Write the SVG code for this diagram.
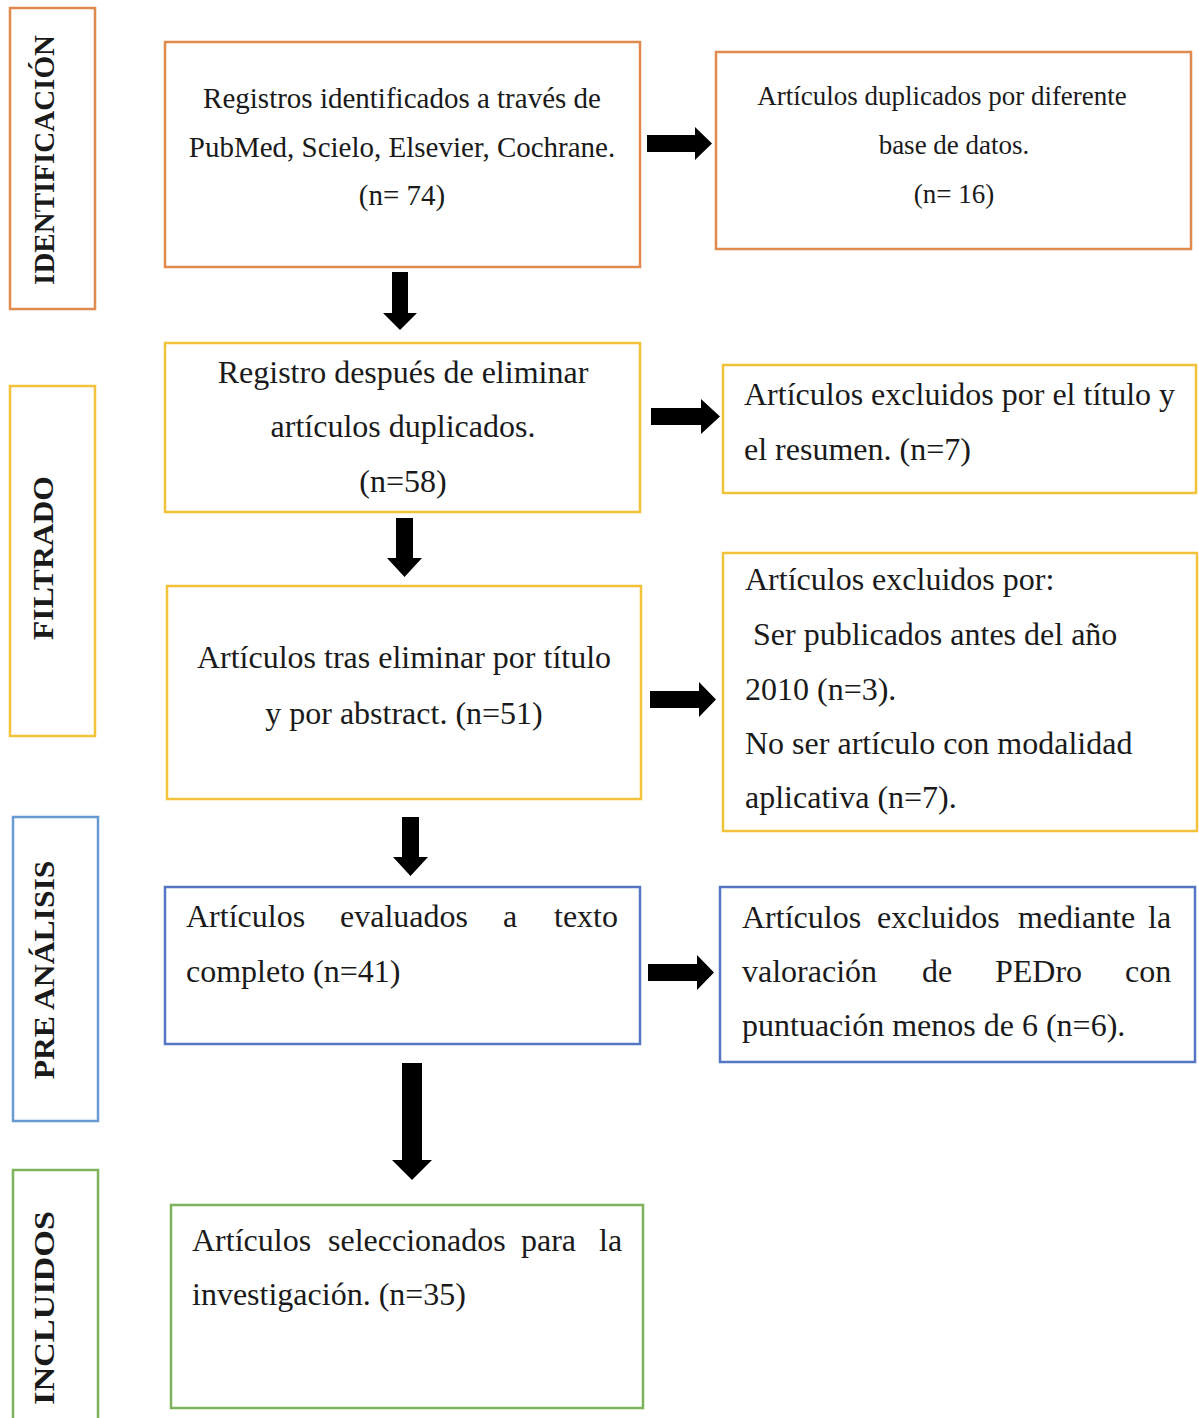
<svg xmlns="http://www.w3.org/2000/svg" width="1199" height="1418" viewBox="0 0 1199 1418">
<style>
.box{fill:#fff;stroke-width:2.5}
.or{stroke:#E08A4E}
.ye{stroke:#F2C33A}
.bl{stroke:#5576C4}
.lb{stroke:#6A9AD2}
.gr{stroke:#7DB35A}
text{font-family:"Liberation Serif","Times New Roman",serif;fill:#1a1a1a}
.side{font-size:29px;font-weight:bold;text-anchor:middle}
.t29{font-size:29px}
.t27{font-size:27px}
.t32{font-size:32px}
.c{text-anchor:middle}
.e{text-anchor:end}
.arrow{fill:#000}
</style>
<rect width="1199" height="1418" fill="#fff"/>

<g id="side-identificacion">
<rect class="box or" x="10" y="8" width="85" height="301"/>
<text class="side" transform="translate(54,160) rotate(-90)">IDENTIFICACIÓN</text>
</g>
<g id="side-filtrado">
<rect class="box ye" x="10" y="386" width="85" height="350"/>
<text class="side" transform="translate(53,558) rotate(-90) scale(1.09,1)">FILTRADO</text>
</g>
<g id="side-preanalisis">
<rect class="box lb" x="13" y="817" width="85" height="304"/>
<text class="side" transform="translate(54,970) rotate(-90) scale(1.09,1)">PRE ANÁLISIS</text>
</g>
<g id="side-incluidos">
<rect class="box gr" x="13" y="1170" width="85" height="260"/>
<text class="side" transform="translate(54,1308) rotate(-90) scale(1.18,1)">INCLUIDOS</text>
</g>

<g id="n1">
<rect class="box or" x="165" y="42" width="475" height="225"/>
<text class="t29 c" x="402" y="108">Registros identificados a través de</text>
<text class="t29 c" x="402" y="157">PubMed, Scielo, Elsevier, Cochrane.</text>
<text class="t29 c" x="402" y="205">(n= 74)</text>
</g>
<g id="n1r">
<rect class="box or" x="716" y="52" width="475" height="197"/>
<text class="t27 c" x="942" y="105">Artículos duplicados por diferente</text>
<text class="t27 c" x="954" y="154">base de datos.</text>
<text class="t27 c" x="954" y="203">(n= 16)</text>
</g>
<g id="n2">
<rect class="box ye" x="165" y="343" width="475" height="169"/>
<text class="t32 c" x="403" y="383">Registro después de eliminar</text>
<text class="t32 c" x="403" y="437">artículos duplicados.</text>
<text class="t32 c" x="403" y="492">(n=58)</text>
</g>
<g id="n2r">
<rect class="box ye" x="723" y="365" width="473" height="128"/>
<text class="t32" x="744" y="405">Artículos excluidos por el título y</text>
<text class="t32" x="744" y="460">el resumen. (n=7)</text>
</g>
<g id="n3">
<rect class="box ye" x="167" y="586" width="474" height="213"/>
<text class="t32 c" x="404" y="668">Artículos tras eliminar por título</text>
<text class="t32 c" x="404" y="724">y por abstract. (n=51)</text>
</g>
<g id="n3r">
<rect class="box ye" x="723" y="553" width="474" height="278"/>
<text class="t32" x="745" y="590">Artículos excluidos por:</text>
<text class="t32" x="753" y="645">Ser publicados antes del año</text>
<text class="t32" x="745" y="700">2010 (n=3).</text>
<text class="t32" x="745" y="754">No ser artículo con modalidad</text>
<text class="t32" x="745" y="808">aplicativa (n=7).</text>
</g>
<g id="n4">
<rect class="box bl" x="165" y="887" width="475" height="157"/>
<text class="t32" y="927"><tspan x="186">Artículos</tspan><tspan x="340">evaluados</tspan><tspan x="503">a</tspan><tspan x="554">texto</tspan></text>
<text class="t32" x="186" y="982">completo (n=41)</text>
</g>
<g id="n4r">
<rect class="box bl" x="720" y="887" width="475" height="175"/>
<text class="t32" y="928"><tspan x="742">Artículos</tspan><tspan x="877">excluidos</tspan><tspan x="1018">mediante</tspan><tspan x="1148">la</tspan></text>
<text class="t32" y="982"><tspan x="742">valoración</tspan><tspan x="922">de</tspan><tspan x="995">PEDro</tspan><tspan x="1125">con</tspan></text>
<text class="t32" x="742" y="1036">puntuación menos de 6 (n=6).</text>
</g>
<g id="n5">
<rect class="box gr" x="171" y="1205" width="472" height="203"/>
<text class="t32" y="1251"><tspan x="192">Artículos</tspan><tspan x="328">seleccionados</tspan><tspan x="521">para</tspan><tspan x="599">la</tspan></text>
<text class="t32" x="192" y="1305">investigación. (n=35)</text>
</g>

<g id="connectors" class="arrow">
<polygon points="647,135 695,135 695,127 712,143.5 695,160 695,152 647,152"/>
<polygon points="651,408 701,408 701,399 720,416.5 701,434 701,425 651,425"/>
<polygon points="650,691 699,691 699,682 716,699.5 699,717 699,708 650,708"/>
<polygon points="648,964 697,964 697,955 714,972.5 697,990 697,981 648,981"/>
<polygon points="392,272 408,272 408,313 417,313 400,330 383,313 392,313"/>
<polygon points="396,518 413,518 413,558 422,558 404.5,577 387,558 396,558"/>
<polygon points="402,817 419,817 419,857 428,857 410.5,876 393,857 402,857"/>
<polygon points="402,1063 422,1063 422,1160 432,1160 412,1180 392,1160 402,1160"/>
</g>
</svg>
